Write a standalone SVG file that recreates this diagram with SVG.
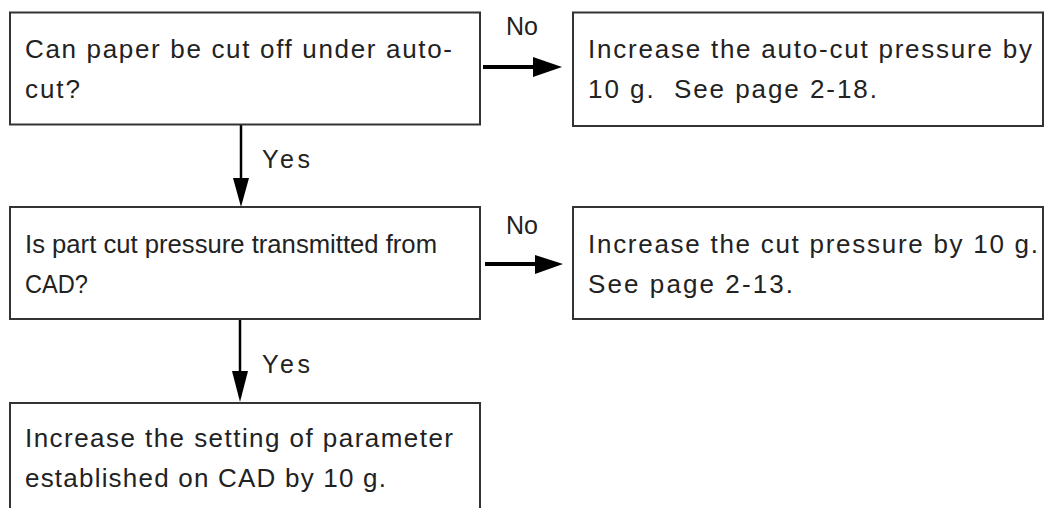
<svg xmlns="http://www.w3.org/2000/svg" width="1048" height="508" viewBox="0 0 1048 508">
<style>
.box{fill:#fff;stroke:#333;stroke-width:2}
.t{font-family:"Liberation Sans",Arial,sans-serif;font-size:26px;fill:#222;white-space:pre}
.c{font-size:25.5px}
.lbl{font-family:"Liberation Sans",Arial,sans-serif;font-size:25px;fill:#222}
.h{stroke:#000;stroke-width:4}
.v{stroke:#000;stroke-width:2.5}
.head{fill:#000}
</style>
<rect width="1048" height="508" fill="#fff"/>
<g id="connectors">
  <line class="h" x1="483" y1="67" x2="535" y2="67"/>
  <polygon class="head" points="533,57 562,67 533,77"/>
  <text class="lbl" x="506" y="35">No</text>
  <line class="v" x1="241" y1="125" x2="241" y2="180"/>
  <polygon class="head" points="233,178 241,207 249,178"/>
  <text class="lbl" x="262" y="168" font-size="24" textLength="48" lengthAdjust="spacing">Yes</text>
  <line class="h" x1="485" y1="264" x2="537" y2="264"/>
  <polygon class="head" points="535,255 563,264 535,274"/>
  <text class="lbl" x="506" y="234">No</text>
  <line class="v" x1="240" y1="319" x2="240" y2="373"/>
  <polygon class="head" points="232,371 240,402 248,371"/>
  <text class="lbl" x="262" y="373" font-size="24" textLength="48" lengthAdjust="spacing">Yes</text>
</g>
<g id="q1">
  <rect class="box" x="10" y="12.5" width="470" height="112"/>
  <text class="t" x="25" y="58" textLength="427" lengthAdjust="spacing">Can paper be cut off under auto-</text>
  <text class="t" x="25" y="98" textLength="55" lengthAdjust="spacing">cut?</text>
</g>
<g id="a1">
  <rect class="box" x="573" y="12.5" width="470" height="113.5"/>
  <text class="t" x="588" y="58" textLength="444" lengthAdjust="spacing">Increase the auto-cut pressure by</text>
  <text class="t" x="588" y="98" textLength="289" lengthAdjust="spacing">10 g.  See page 2-18.</text>
</g>
<g id="q2">
  <rect class="box" x="10" y="207" width="470" height="112"/>
  <text class="t c" x="25" y="253" textLength="412" lengthAdjust="spacingAndGlyphs">Is part cut pressure transmitted from</text>
  <text class="t c" x="25" y="293" textLength="63" lengthAdjust="spacingAndGlyphs">CAD?</text>
</g>
<g id="a2">
  <rect class="box" x="573" y="207" width="470" height="112"/>
  <text class="t" x="588" y="253" textLength="450" lengthAdjust="spacing">Increase the cut pressure by 10 g.</text>
  <text class="t" x="588" y="293" textLength="205" lengthAdjust="spacing">See page 2-13.</text>
</g>
<g id="r1">
  <rect class="box" x="10" y="403" width="470" height="130"/>
  <text class="t" x="25" y="447" textLength="428" lengthAdjust="spacing">Increase the setting of parameter</text>
  <text class="t" x="25" y="487" textLength="361" lengthAdjust="spacing">established on CAD by 10 g.</text>
</g>
</svg>
